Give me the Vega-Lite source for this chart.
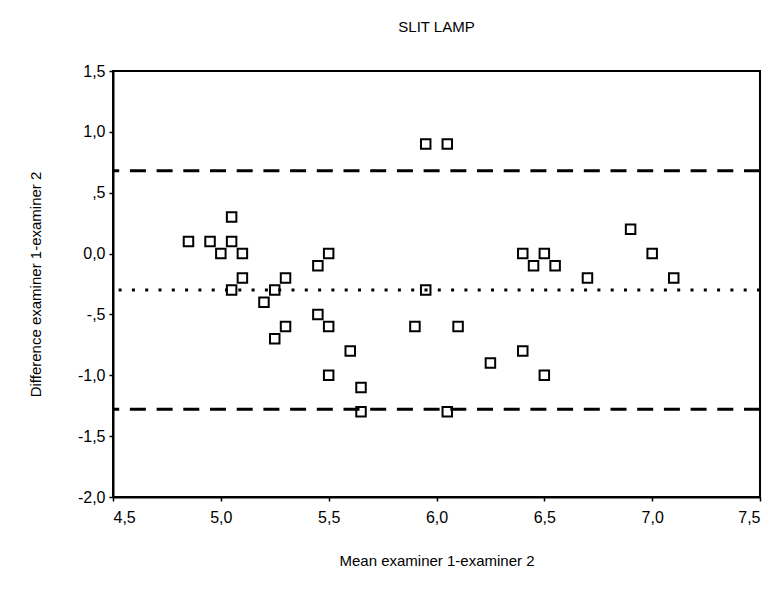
{
  "$schema": "https://vega.github.io/schema/vega-lite/v6.json",
  "autosize": {"type": "none"},
  "width": 647,
  "height": 426,
  "padding": {"left": 113, "top": 71, "right": 13, "bottom": 103},
  "background": "white",
  "config": {
    "view": {"stroke": "black", "strokeWidth": 2},
    "font": "Liberation Sans"
  },
  "title": {
    "text": "SLIT LAMP",
    "fontSize": 15,
    "fontWeight": "normal",
    "font": "Liberation Sans",
    "color": "black",
    "offset": 28
  },
  "datasets": {
    "points": [
      {"mean": 4.85, "diff": 0.1},
      {"mean": 4.95, "diff": 0.1},
      {"mean": 5.0, "diff": 0.0},
      {"mean": 5.05, "diff": 0.3},
      {"mean": 5.05, "diff": 0.1},
      {"mean": 5.1, "diff": 0.0},
      {"mean": 5.1, "diff": -0.2},
      {"mean": 5.05, "diff": -0.3},
      {"mean": 5.2, "diff": -0.4},
      {"mean": 5.25, "diff": -0.3},
      {"mean": 5.25, "diff": -0.7},
      {"mean": 5.3, "diff": -0.2},
      {"mean": 5.3, "diff": -0.6},
      {"mean": 5.45, "diff": -0.1},
      {"mean": 5.5, "diff": 0.0},
      {"mean": 5.45, "diff": -0.5},
      {"mean": 5.5, "diff": -0.6},
      {"mean": 5.5, "diff": -1.0},
      {"mean": 5.6, "diff": -0.8},
      {"mean": 5.65, "diff": -1.1},
      {"mean": 5.65, "diff": -1.3},
      {"mean": 5.9, "diff": -0.6},
      {"mean": 5.95, "diff": 0.9},
      {"mean": 6.05, "diff": 0.9},
      {"mean": 5.95, "diff": -0.3},
      {"mean": 6.05, "diff": -1.3},
      {"mean": 6.1, "diff": -0.6},
      {"mean": 6.25, "diff": -0.9},
      {"mean": 6.4, "diff": -0.8},
      {"mean": 6.5, "diff": -1.0},
      {"mean": 6.4, "diff": 0.0},
      {"mean": 6.45, "diff": -0.1},
      {"mean": 6.5, "diff": 0.0},
      {"mean": 6.55, "diff": -0.1},
      {"mean": 6.7, "diff": -0.2},
      {"mean": 6.9, "diff": 0.2},
      {"mean": 7.0, "diff": 0.0},
      {"mean": 7.1, "diff": -0.2}
    ],
    "limits": [
      {"value": 0.68, "kind": "limit"},
      {"value": -1.28, "kind": "limit"}
    ],
    "meanline": [
      {"value": -0.3, "kind": "mean"}
    ]
  },
  "layer": [
    {
      "data": {"name": "points"},
      "mark": {"type": "point", "shape": "square", "filled": false, "size": 90, "strokeWidth": 2, "color": "black", "opacity": 1},
      "encoding": {
        "x": {
          "field": "mean",
          "type": "quantitative",
          "scale": {"domain": [4.5, 7.5], "nice": false, "zero": false},
          "axis": {
            "values": [4.5, 5.0, 5.5, 6.0, 6.5, 7.0, 7.5],
            "labelExpr": "replace(format(datum.value, '.1f'), '.', ',')",
            "title": "Mean examiner 1-examiner 2",
            "grid": false,
            "domainColor": "black",
            "domainWidth": 2,
            "tickColor": "black",
            "tickSize": 4,
            "tickWidth": 1.5,
            "labelFontSize": 16,
            "labelColor": "black",
            "labelPadding": 8,
            "labelFont": "Liberation Sans",
            "titleFont": "Liberation Sans",
            "titleFontSize": 15,
            "titleFontWeight": "normal",
            "titleColor": "black",
            "titlePadding": 28
          }
        },
        "y": {
          "field": "diff",
          "type": "quantitative",
          "scale": {"domain": [-2.0, 1.5], "nice": false, "zero": false},
          "axis": {
            "values": [-2.0, -1.5, -1.0, -0.5, 0.0, 0.5, 1.0, 1.5],
            "labelExpr": "datum.value == 0.5 ? ',5' : (datum.value == -0.5 ? '-,5' : replace(replace(format(datum.value, '.1f'), '.', ','), '\u2212', '-'))",
            "title": "Difference examiner 1-examiner 2",
            "grid": false,
            "domainColor": "black",
            "domainWidth": 2,
            "tickColor": "black",
            "tickSize": 4,
            "tickWidth": 1.5,
            "labelFontSize": 16,
            "labelColor": "black",
            "labelPadding": 4,
            "labelFont": "Liberation Sans",
            "titleFont": "Liberation Sans",
            "titleFontSize": 15,
            "titleFontWeight": "normal",
            "titleColor": "black",
            "titlePadding": 34
          }
        }
      }
    },
    {
      "data": {"name": "limits"},
      "mark": {"type": "rule", "color": "black", "strokeWidth": 3, "strokeDash": [16, 10.7]},
      "encoding": {"y": {"field": "value", "type": "quantitative"}}
    },
    {
      "data": {"name": "meanline"},
      "mark": {"type": "rule", "color": "black", "strokeWidth": 3, "strokeDash": [3, 10.3]},
      "encoding": {"y": {"field": "value", "type": "quantitative"}}
    }
  ]
}
